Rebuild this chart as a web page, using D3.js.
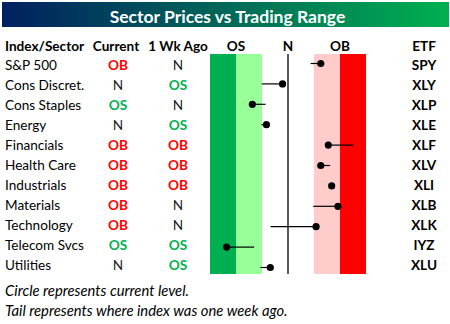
<!DOCTYPE html>
<html><head><meta charset="utf-8">
<script src="https://cdn.jsdelivr.net/npm/d3@7"></script>
<style>body{margin:0;background:#fff}svg{display:block}text{font-family:Lato,"Open Sans",sans-serif}</style>
</head><body><svg id="c" width="450" height="324"></svg>
<script>
const sectors = ["S&P 500","Cons Discret.","Cons Staples","Energy","Financials","Health Care","Industrials","Materials","Technology","Telecom Svcs","Utilities"];
const tickers = ["SPY","XLY","XLP","XLE","XLF","XLV","XLI","XLB","XLK","IYZ","XLU"];
const current = [1.26,-0.21,-1.37,-0.83,1.55,1.26,1.68,1.92,1.08,-2.36,-0.68];
const weekAgo = [0.87,-1.01,-0.86,-1.02,2.51,1.62,1.66,0.97,-0.67,-1.30,-1.06];
const currentLabel = ["OB","N","OS","N","OB","OB","OB","OB","OB","OS","N"];
const weekLabel = ["N","OS","N","OS","OB","OB","OB","N","N","OS","OS"];
const zones = [[-3,-2,"#00B050"],[-2,-1,"#99FF99"],[-1,1,"#FFFFFF"],[1,2,"#FFCCCC"],[2,3,"#FF0000"]];
const zoneTicks = [[-2,"OS"],[0,"N"],[2,"OB"]];
const title = "Sector Prices vs Trading Range";
const notes = ["Circle represents current level.","Tail represents where index was one week ago."];
const labelColor = {OB:"#FF0000",OS:"#00B050",N:"#1a1a1a"};

const svg = d3.select("#c");
const defs = svg.append("defs");
const g = defs.append("linearGradient").attr("id","tg").attr("x1","0").attr("x2","1").attr("y1","0").attr("y2","0");
g.append("stop").attr("offset","0").attr("stop-color","#002060");
g.append("stop").attr("offset","1").attr("stop-color","#00B050");
svg.append("rect").attr("x",2).attr("y",2).attr("width",447).attr("height",25).attr("fill","url(#tg)");
svg.append("text").attr("x",227.5).attr("y",23).attr("text-anchor","middle").attr("fill","#fff")
  .attr("font-weight","bold").attr("font-size",17.5).text(title);

const x = d3.scaleLinear().domain([-3,3]).range([210,366]);
const yRow = d3.scalePoint().domain(sectors).range([70,270]);
const yDot = d3.scalePoint().domain(tickers).range([63.5,267.5]);
const fs = 13.6;

// header
const hdr = svg.append("g").attr("font-weight","bold").attr("font-size",fs).attr("fill","#000");
hdr.append("text").attr("x",5).attr("y",50.5).text("Index/Sector");
hdr.append("text").attr("x",116).attr("y",50.5).attr("text-anchor","middle").text("Current");
hdr.append("text").attr("x",178).attr("y",50.5).attr("text-anchor","middle").text("1 Wk Ago");
hdr.append("text").attr("x",424).attr("y",50.5).attr("text-anchor","middle").text("ETF");
hdr.selectAll(".zt").data(zoneTicks).join("text").attr("x",d=>x(d[0])).attr("y",50.5)
  .attr("text-anchor","middle").text(d=>d[1]);

// zones
svg.selectAll(".zone").data(zones).join("rect").attr("x",d=>x(d[0])).attr("width",d=>x(d[1])-x(d[0]))
  .attr("y",54).attr("height",220).attr("fill",d=>d[2]);
svg.append("line").attr("x1",x(0)).attr("x2",x(0)).attr("y1",54).attr("y2",274).attr("stroke","#000").attr("stroke-width",1.3);

// rows
const rows = sectors.map((s,i)=>({s,t:tickers[i],c:current[i],w:weekAgo[i],cl:currentLabel[i],wl:weekLabel[i]}));
const tb = svg.append("g").attr("font-size",fs);
tb.selectAll(".nm").data(rows).join("text").attr("x",5).attr("y",d=>yRow(d.s)).attr("fill","#000").text(d=>d.s);
tb.selectAll(".cl").data(rows).join("text").attr("x",118).attr("y",d=>yRow(d.s)).attr("text-anchor","middle")
  .attr("font-weight",d=>d.cl==="N"?"normal":"bold").attr("fill",d=>labelColor[d.cl]).text(d=>d.cl);
tb.selectAll(".wl").data(rows).join("text").attr("x",178).attr("y",d=>yRow(d.s)).attr("text-anchor","middle")
  .attr("font-weight",d=>d.wl==="N"?"normal":"bold").attr("fill",d=>labelColor[d.wl]).text(d=>d.wl);
tb.selectAll(".tk").data(rows).join("text").attr("x",424).attr("y",d=>yRow(d.s)).attr("text-anchor","middle")
  .attr("font-weight","bold").attr("fill","#000").text(d=>d.t);

// tails and dots
svg.selectAll(".tail").data(rows).join("line").attr("x1",d=>x(d.w)).attr("x2",d=>x(d.c))
  .attr("y1",d=>yDot(d.t)).attr("y2",d=>yDot(d.t)).attr("stroke","#000").attr("stroke-width",1.2);
svg.selectAll(".dot").data(rows).join("circle").attr("cx",d=>x(d.c)).attr("cy",d=>yDot(d.t)).attr("r",3.6).attr("fill","#000");

// notes
svg.selectAll(".note").data(notes).join("text").attr("x",5).attr("y",(d,i)=>295.5+i*20.5)
  .attr("font-style","italic").attr("font-size",14.8).attr("fill","#000").text(d=>d);
</script></body></html>
